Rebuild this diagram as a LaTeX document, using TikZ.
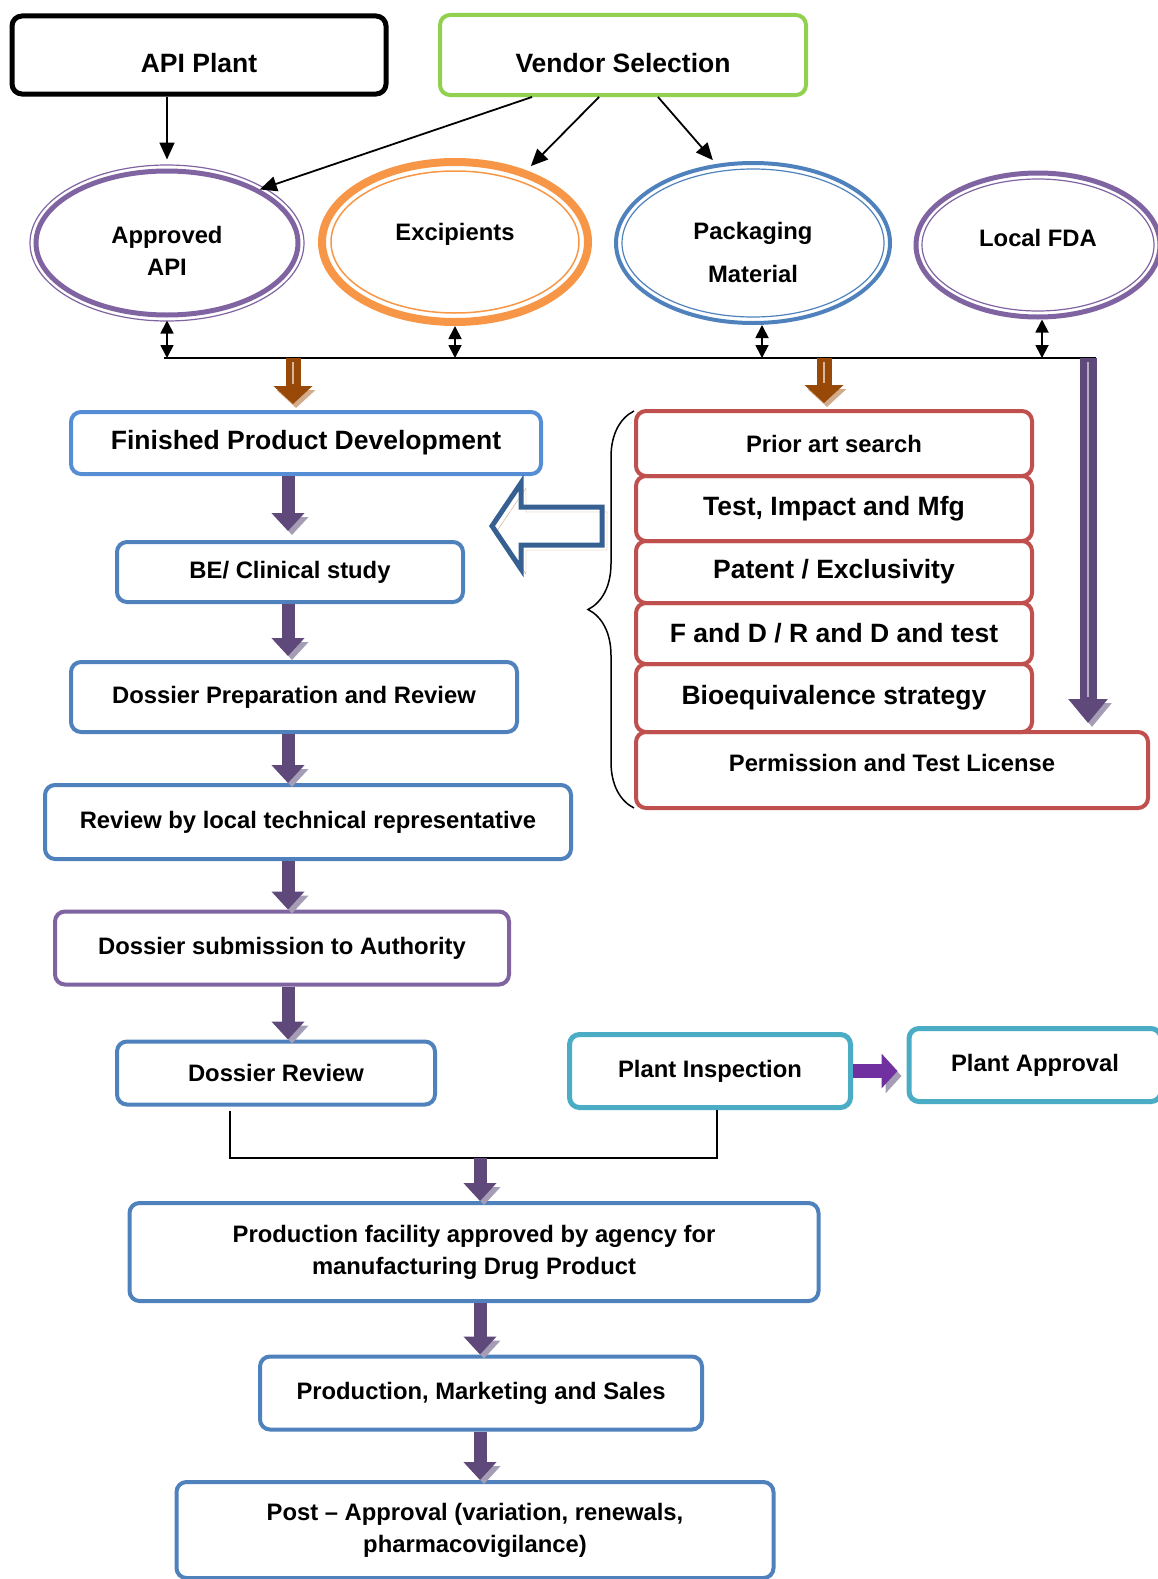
\documentclass[tikz,border=0pt]{standalone}
\usepackage{fontspec}
\setmainfont{Liberation Sans}
\usetikzlibrary{arrows.meta,shapes.geometric,decorations.pathreplacing}

\definecolor{boxblue}{HTML}{4F81BD}
\definecolor{lightblue}{HTML}{558ED5}
\definecolor{boxred}{HTML}{C0504D}
\definecolor{boxpurple}{HTML}{8064A2}
\definecolor{boxteal}{HTML}{4BACC6}
\definecolor{boxgreen}{HTML}{92D050}
\definecolor{boxorange}{HTML}{F79646}
\definecolor{arrowpurple}{HTML}{5F497A}
\definecolor{shadowpurple}{HTML}{A59DB5}
\definecolor{arrowbrown}{HTML}{984807}
\definecolor{shadowbrown}{HTML}{D2AB8A}
\definecolor{hollowblue}{HTML}{376092}
\definecolor{hollowshadow}{HTML}{CDA483}
\definecolor{plantviolet}{HTML}{7030A0}

\newcommand{\normfont}{\fontsize{23.8}{32}\selectfont\bfseries}
\newcommand{\bigfont}{\fontsize{26.5}{34}\selectfont\bfseries}

\begin{document}
\begin{tikzpicture}
        [x=1pt, y=-1pt,
        box/.style={draw, rounded corners=10pt, line width=4pt, inner sep=0pt, align=center, font=\normfont},
        ring/.style={ellipse, draw, inner sep=0pt, align=center, font=\normfont},
        ringtext/.style={font=\normfont, align=center, inner sep=0pt},
        thinarrow/.style={draw=black, line width=1.8pt, -{Triangle[width=15pt,length=17pt]}},
        dblarrow/.style={draw=black, line width=1.8pt, {Triangle[width=13pt,length=13pt]}-{Triangle[width=13pt,length=13pt]}},
        bus/.style={draw=black, line width=1.6pt},
        blockarrow/.style={draw=arrowpurple, line width=13pt, -{Triangle[width=32pt,length=18pt]},
            preaction={draw=shadowpurple, transform canvas={shift={(4pt,-4pt)}}}},
        tallarrow/.style={draw=arrowpurple, line width=17pt, -{Triangle[width=38pt,length=24pt]},
            preaction={draw=shadowpurple, transform canvas={shift={(4pt,-4pt)}}},
            postaction={draw=arrowpurple!45!white, line width=2.5pt, arrows=-, shorten >=26pt, shorten <=4pt}},
        brownarrow/.style={draw=arrowbrown, line width=15pt, -{Triangle[width=38pt,length=18pt]},
            preaction={draw=shadowbrown, transform canvas={shift={(3pt,-4pt)}}},
            postaction={draw=arrowbrown!40!white, line width=2.5pt, arrows=-, shorten >=20pt, shorten <=4pt}},
        plantarrow/.style={draw=plantviolet, line width=14pt, -{Triangle[width=34pt,length=16pt]},
            preaction={draw=shadowpurple, transform canvas={shift={(4pt,-5pt)}}}},
        hollowarrow/.style={draw=hollowblue, line width=5pt, line join=miter,
            preaction={draw=hollowshadow, transform canvas={shift={(5pt,-5pt)}}}},
        curly/.style={draw=black, line width=1.5pt, decorate, decoration={brace, amplitude=46pt}}]
        \useasboundingbox (0,0) rectangle (1157,1579);

        % top row
        \node[box, draw=black, line width=5pt, minimum width=374pt, minimum height=78pt, font=\bigfont, text height=35pt, text depth=0pt] (apiplant) at (199,55) {API Plant};
        \node[box, draw=boxgreen, minimum width=366pt, minimum height=80pt, font=\bigfont, text height=35pt, text depth=0pt] (vendor) at (623,55) {Vendor Selection};

        % sources
        \node[ring, draw=boxpurple, line width=5pt, minimum width=262pt, minimum height=144pt,
            label={[ringtext, yshift=-8pt]center:Approved\\API}] (api) at (167,243) {};
        \draw[boxpurple, line width=1.2pt] (api.center) ellipse [x radius=137pt, y radius=78pt];
        \node[ring, draw=boxorange, line width=8pt, minimum width=266pt, minimum height=160pt, text depth=20pt] (excip) at (455,242) {Excipients};
        \draw[boxorange, line width=1.5pt] (excip.center) ellipse [x radius=124pt, y radius=71pt];
        \node[ring, draw=boxblue, line width=4pt, minimum width=274pt, minimum height=160pt,
            label={[ringtext, yshift=-9pt]center:Packaging\\[11pt]Material}] (pack) at (753,243) {};
        \draw[boxblue, line width=1.2pt] (pack.center) ellipse [x radius=131pt, y radius=74pt];
        \node[ring, draw=boxpurple, line width=5pt, minimum width=244pt, minimum height=144pt, text depth=14pt] (fda) at (1038,245) {Local FDA};
        \draw[boxpurple, line width=1.2pt] (fda.center) ellipse [x radius=116pt, y radius=66pt];

        \draw[thinarrow, shorten >=9pt] (apiplant.south -| api.north) -- (api.north);
        \draw[thinarrow] ([xshift=-91pt]vendor.south) -- (api.30);
        \draw[thinarrow, shorten >=6pt] ([xshift=-24pt]vendor.south) -- (excip.45);
        \draw[thinarrow, shorten >=5pt] ([xshift=35pt]vendor.south) -- (pack.115);

        \coordinate (busL) at (164,358);
        \coordinate (busR) at (1096,358);
        \draw[bus] (busL) -- (busR);
        \draw[dblarrow, shorten <=3pt] (api.south) -- (api.south |- busL);
        \draw[dblarrow] (excip.south) -- (excip.south |- busL);
        \draw[dblarrow] ([xshift=9pt]pack.south) -- ([xshift=9pt]pack.south |- busL);
        \draw[dblarrow] ([xshift=4pt]fda.south) -- ([xshift=4pt]fda.south |- busL);

        % main flow
        \node[box, draw=lightblue, minimum width=470pt, minimum height=62pt, font=\bigfont] (fpd) at (306,443) {Finished Product Development};
        \node[box, draw=boxblue, minimum width=346pt, minimum height=60pt] (be) at (290,572) {BE/ Clinical study};
        \node[box, draw=boxblue, minimum width=446pt, minimum height=70pt] (dpr) at (294,697) {Dossier Preparation and Review};
        \node[box, draw=boxblue, minimum width=526pt, minimum height=74pt] (rev) at (308,822) {Review by local technical representative};
        \node[box, draw=boxpurple, minimum width=454pt, minimum height=73pt] (dsa) at (282,948) {Dossier submission to Authority};
        \node[box, draw=boxblue, minimum width=318pt, minimum height=63pt] (dr) at (276,1073) {Dossier Review};
        \node[box, draw=boxteal, line width=5pt, minimum width=281pt, minimum height=73pt] (pi) at (710,1071) {Plant Inspection};
        \node[box, draw=boxteal, line width=5pt, minimum width=252pt, minimum height=73pt] (pa) at (1035,1065) {Plant Approval};
        \node[box, draw=boxblue, minimum width=689pt, minimum height=98pt] (pf) at (474,1252) {Production facility approved by agency for\\manufacturing Drug Product};
        \node[box, draw=boxblue, minimum width=442pt, minimum height=73pt] (pms) at (481,1393) {Production, Marketing and Sales};
        \node[box, draw=boxblue, minimum width=597pt, minimum height=96pt] (post) at (475,1530) {Post -- Approval (variation, renewals,\\pharmacovigilance)};

        % checks
        \node[box, draw=boxred, minimum width=396pt, minimum height=65pt] (prior) at (834,443.5) {Prior art search};
        \node[box, draw=boxred, minimum width=396pt, minimum height=65pt, font=\bigfont] (test) at (834,508.5) {Test, Impact and Mfg};
        \node[box, draw=boxred, minimum width=396pt, minimum height=62pt, font=\bigfont] (patent) at (834,572) {Patent / Exclusivity};
        \node[box, draw=boxred, minimum width=396pt, minimum height=61pt, font=\bigfont] (fd) at (834,633.5) {F and D / R and D and test};
        \node[box, draw=boxred, minimum width=396pt, minimum height=68pt, font=\bigfont] (bioeq) at (834,698) {Bioequivalence strategy};
        \node[box, draw=boxred, minimum width=512pt, minimum height=76pt, text depth=14pt] (perm) at (892,770) {Permission and Test License};

        \draw[curly] (634,808) -- (634,411);
        \draw[hollowarrow] (492,526) -- (521,483) -- (521,507) -- (602,507) -- (602,545) -- (521,545) -- (521,569) -- cycle;

        \draw[brownarrow] ([xshift=-13pt]fpd.north |- busL) -- ([xshift=-13pt, yshift=6pt]fpd.north);
        \draw[brownarrow] ([xshift=-10pt]prior.north |- busL) -- ([xshift=-10pt, yshift=6pt]prior.north);
        \coordinate (tallstart) at (1088,358);
        \coordinate (tallend) at (1088,723);
        \draw[tallarrow] (tallstart) -- (tallend);

        \coordinate (col) at (288,0);
        \draw[blockarrow, shorten >=9pt] (fpd.south -| col) -- (be.north -| col);
        \draw[blockarrow, shorten >=4pt] (be.south -| col) -- (dpr.north -| col);
        \draw[blockarrow] (dpr.south -| col) -- (rev.north -| col);
        \draw[blockarrow] (rev.south -| col) -- (dsa.north -| col);
        \draw[blockarrow] (dsa.south -| col) -- (dr.north -| col);

        \draw[plantarrow, shorten >=9pt] (pi.east) -- (pi.east -| pa.west);

        \coordinate (junc) at (480,1158);
        \draw[bus] ([xshift=-46pt, yshift=-4pt]dr.south) -- ([xshift=-46pt]dr.south |- junc) -- ([xshift=7pt]pi.south |- junc) -- ([xshift=7pt]pi.south);
        \draw[blockarrow] (junc) -- (pf.north -| junc);
        \draw[blockarrow] (pf.south -| junc) -- (pms.north -| junc);
        \draw[blockarrow] (pms.south -| junc) -- (post.north -| junc);

\end{tikzpicture}
\end{document}
